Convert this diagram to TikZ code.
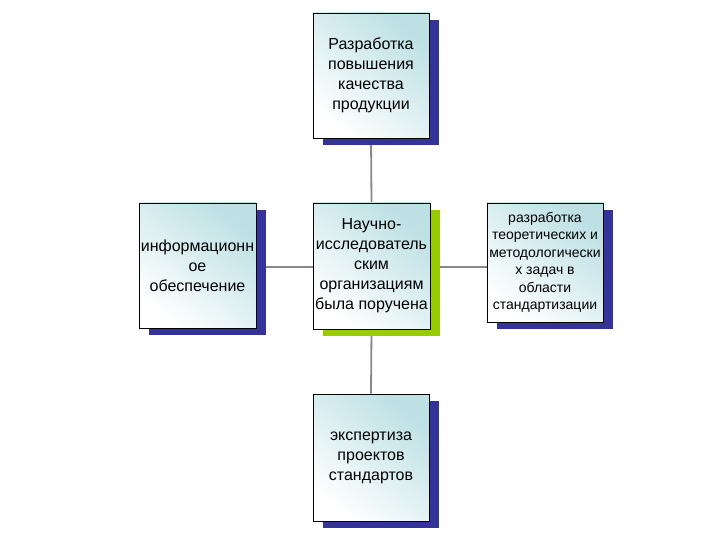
\documentclass[tikz,border=0pt]{standalone}
\usepackage{fontspec}
\setmainfont{Liberation Sans}
\usetikzlibrary{shadows,backgrounds}
\definecolor{boxcyan}{RGB}{188,224,228}
\definecolor{navyshadow}{RGB}{51,51,153}
\definecolor{greenshadow}{RGB}{153,204,0}
\definecolor{linkgray}{RGB}{136,136,136}
\tikzset{
  box/.style={draw=black, line width=0.9pt, top color=boxcyan, bottom color=white, shading angle=-40,
    align=center, inner sep=0pt, font=\fontsize{16}{20}\selectfont,
    drop shadow={shadow xshift=10pt, shadow yshift=-7pt, fill=navyshadow, opacity=1}},
  greenbox/.style={box, drop shadow={shadow xshift=10pt, shadow yshift=-7pt, fill=greenshadow, opacity=1}},
  link/.style={draw=linkgray, line width=1.8pt}
}
\begin{document}
\begin{tikzpicture}[x=1pt,y=-1pt]
\useasboundingbox (0,0) rectangle (720,540);
\node[box, minimum width=116pt, minimum height=125pt] (top) at (371,75.5) {Разработка\\повышения\\качества\\продукции};
\node[box, minimum width=117pt, minimum height=125pt] (left) at (197.5,265.5) {информационн\\ое\\обеспечение};
\node[box, greenbox, minimum width=117pt, minimum height=126pt] (center) at (371.5,266) {Научно-\\исследователь\\ским\\организациям\\была поручена};
\node[box, minimum width=116pt, minimum height=119pt, font=\fontsize{14}{17.5}\selectfont] (right) at (545,262.5) {разработка\\теоретических и\\методологически\\х задач в\\области\\стандартизации};
\node[box, minimum width=116pt, minimum height=127pt] (bottom) at (371,457.5) {экспертиза\\проектов\\стандартов};
\begin{scope}[on background layer]
\draw[link] (top.south) -- (center.north);
\draw[link] (center.south) -- (bottom.north);
\draw[link] (left.east |- 0,267) -- (center.west |- 0,267);
\draw[link] (center.east |- 0,267) -- (right.west |- 0,267);
\end{scope}
\end{tikzpicture}
\end{document}
